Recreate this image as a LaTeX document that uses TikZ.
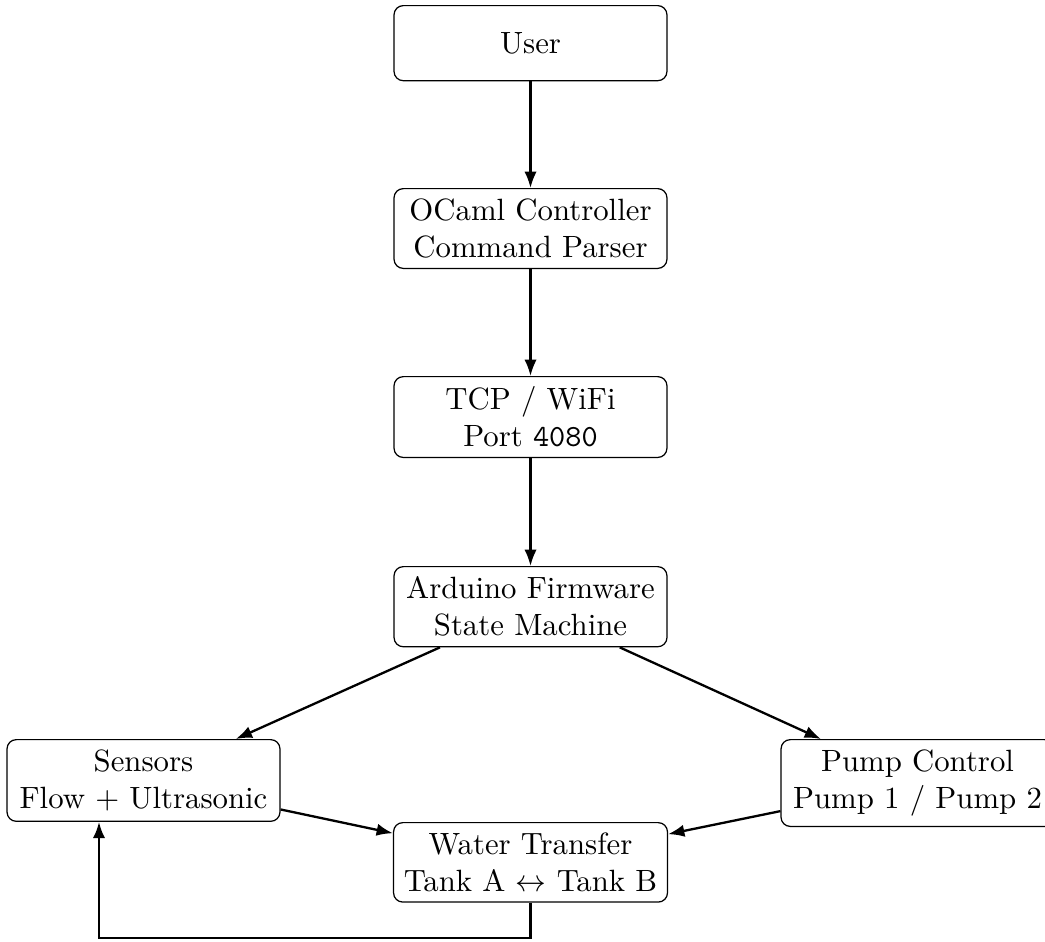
\documentclass[tikz,border=0pt]{standalone}
\usetikzlibrary{arrows.meta}
\begin{document}
\begin{tikzpicture}[x=0.325pt,y=-0.325pt,
  box/.style={draw, rounded corners=3pt, align=center, minimum width=88.7pt, minimum height=24.4pt, inner sep=3.33pt, anchor=north},
  conn/.style={line width=0.75pt, -{Latex[length=5.3pt,width=4pt]}}]
\useasboundingbox (0,0) rectangle (1045,941);
\node[box] (user) at (530.5,5) {User};
\node[box] (ocaml) at (530.5,188) {OCaml Controller\\Command Parser};
\node[box] (tcp) at (530.5,376) {TCP / WiFi\\Port \texttt{4080}};
\node[box] (ard) at (530.5,566) {Arduino Firmware\\State Machine};
\node[box] (sens) at (143.5,739) {Sensors\\Flow + Ultrasonic};
\node[box] (pump) at (917.5,739) {Pump Control\\Pump 1 / Pump 2};
\node[box] (water) at (530.5,822) {Water Transfer\\Tank A $\leftrightarrow$ Tank B};
\coordinate (loopR) at (530.5,938);
\coordinate (loopL) at (99,938);
\draw[conn] (user) -- (ocaml);
\draw[conn] (ocaml) -- (tcp);
\draw[conn] (tcp) -- (ard);
\draw[conn] (ard) -- (sens);
\draw[conn] (ard) -- (pump);
\draw[conn] (sens) -- (water);
\draw[conn] (pump) -- (water);
\draw[conn] (water.south) -- (loopR) -- (loopL) -- (loopL |- sens.south);
\end{tikzpicture}
\end{document}
